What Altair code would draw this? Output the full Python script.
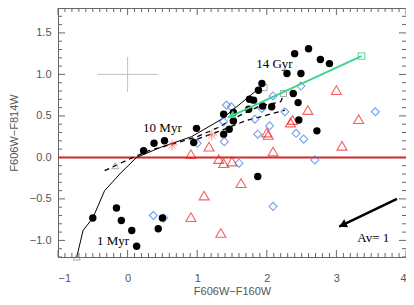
import altair as alt
import pandas as pd
import numpy as np

# ---- data ----
dots_x = [2.40, 2.60, 2.77, 2.90, 2.29, 2.49, 1.93, 1.88, 1.75, 1.81, 2.38, 2.45, 1.74, 1.94,
          2.07, 2.46, 2.72, 1.52, 1.38, 1.52, 1.46, 1.38, 0.99, 0.95, 0.53, 0.38, 0.23, 1.87,
          -0.50, -0.16, -0.09, 0.06, 0.13, 0.44, 0.50]
dots_y = [1.25, 1.31, 1.18, 1.13, 1.01, 1.01, 0.89, 0.81, 0.70, 0.69, 0.77, 0.66, 0.58, 0.62,
          0.61, 0.45, 0.32, 0.54, 0.52, 0.44, 0.34, 0.28, 0.35, 0.18, 0.20, 0.17, 0.08, -0.23,
          -0.73, -0.61, -0.76, -0.88, -1.07, -0.86, -0.73]

diam_x = [1.42, 1.49, 1.38, 1.39, 1.00, 2.09, 2.49, 1.93, 1.83, 2.04, 2.26, 1.87, 2.42, 2.53,
          1.60, 2.69, 3.56, 2.09, 0.37, 0.52]
diam_y = [0.63, 0.61, 0.43, 0.19, 0.17, 0.74, 0.86, 0.59, 0.46, 0.38, 0.55, 0.28, 0.29, 0.22,
          -0.07, -0.03, 0.55, -0.59, -0.70, -0.73]

tri_x = [0.91, 1.17, 1.31, 1.38, 1.50, 2.00, 2.02, 2.09, 2.34, 2.37, 2.59, 3.00, 3.32, 3.08,
         1.63, 1.10, 0.91, 1.34]
tri_y = [0.04, 0.13, -0.02, -0.07, -0.05, 0.30, 0.27, 0.07, 0.42, 0.45, 0.57, 0.81, 0.46, 0.14,
         -0.31, -0.46, -0.72, -0.91]

star_x = [0.64, 1.21]
star_y = [0.15, 0.27]

track_solid_x = [-0.73, -0.64, -0.50, -0.33, -0.09, 0.13, 0.50, 0.92, 1.35, 1.64, 1.93]
track_solid_y = [-1.20, -0.88, -0.73, -0.40, -0.18, 0.00, 0.13, 0.25, 0.46, 0.66, 0.86]

track_dash1_x = [-0.33, 0.00, 0.30, 0.64, 1.00, 1.30, 1.60, 1.90, 2.20, 2.24]
track_dash1_y = [-0.16, -0.03, 0.08, 0.16, 0.25, 0.36, 0.50, 0.62, 0.67, 0.75]

track_dash2_x = [1.00, 1.30, 1.69, 2.00, 2.26]
track_dash2_y = [0.22, 0.31, 0.44, 0.51, 0.57]

start_tri_x = [-0.73, -0.18]
start_tri_y = [-1.20, -0.10]
end_sq_x = [1.96, 2.24]
end_sq_y = [0.84, 0.77]

green_x = [3.36, 1.44]
green_y = [1.22, 0.48]
green_head = (1.49, 0.50)

av_x = [3.87, 3.04]
av_y = [-0.50, -0.835]
av_head = (3.09, -0.815)

err_center = (0.0, 1.0)
err_dx = 0.435
err_dy = 0.21

labels = ["14 Gyr", "10 Myr", "1 Myr", "Av= 1"]
label_x = [2.11, 0.50, -0.21, 3.53]
label_y = [1.13, 0.36, -1.01, -0.97]

x_major = [-1, 0, 1, 2, 3, 4]
y_major = [-1.0, -0.5, 0.0, 0.5, 1.0, 1.5]
x_minor = [round(v, 1) for v in np.arange(-1.0, 4.001, 0.1) if abs(v - round(v)) > 1e-6]
y_minor = [round(v, 1) for v in np.arange(-1.2, 1.801, 0.1) if abs(v * 2 - round(v * 2)) > 1e-6]

# ---- layout ----
W, H = 348, 249
XD, YD = [-1, 4], [-1.2, 1.8]
AX = "#666666"

xs = alt.Scale(domain=XD, nice=False, zero=False)
ys = alt.Scale(domain=YD, nice=False, zero=False)
x_axis = alt.Axis(values=x_major, format="d", ticks=False, domain=False, grid=False,
                  labelPadding=15, titlePadding=2)
y_axis = alt.Axis(values=y_major, format=".1f", ticks=False, domain=False, grid=False,
                  labelPadding=7, titlePadding=10)
XT = "F606W\u2212F160W"
YT = "F606W\u2212F814W"


def X(f="x"):
    return alt.X(f"{f}:Q", scale=xs, axis=x_axis, title=XT)


def Y(f="y"):
    return alt.Y(f"{f}:Q", scale=ys, axis=y_axis, title=YT)


layers = []

# inward ticks on four sides
dfxM = pd.DataFrame({"x": x_major})
dfxm = pd.DataFrame({"x": x_minor})
dfyM = pd.DataFrame({"y": y_major})
dfym = pd.DataFrame({"y": y_minor})
for df, ln in [(dfxM, 7), (dfxm, 4)]:
    layers.append(alt.Chart(df).mark_rule(color=AX, strokeWidth=1).encode(
        x=X(), y=alt.value(H), y2=alt.value(H - ln)))
    layers.append(alt.Chart(df).mark_rule(color=AX, strokeWidth=1).encode(
        x=X(), y=alt.value(0), y2=alt.value(ln)))
for df, ln in [(dfyM, 7), (dfym, 4)]:
    layers.append(alt.Chart(df).mark_rule(color=AX, strokeWidth=1).encode(
        y=Y(), x=alt.value(0), x2=alt.value(ln)))
    layers.append(alt.Chart(df).mark_rule(color=AX, strokeWidth=1).encode(
        y=Y(), x=alt.value(W), x2=alt.value(W - ln)))

# error cross
cx, cy = err_center
layers.append(alt.Chart(pd.DataFrame({"x": [cx - err_dx], "x2": [cx + err_dx], "y": [cy]}))
              .mark_rule(color="#c0c0c0", strokeWidth=1).encode(x=X(), x2="x2:Q", y=Y()))
layers.append(alt.Chart(pd.DataFrame({"x": [cx], "y": [cy - err_dy], "y2": [cy + err_dy]}))
              .mark_rule(color="#c0c0c0", strokeWidth=1).encode(x=X(), y=Y(), y2="y2:Q"))

# zero line
layers.append(alt.Chart(pd.DataFrame({"y": [0.0]})).mark_rule(color="#d42a2a", strokeWidth=2)
              .encode(y=Y()))


def line_df(xv, yv):
    return pd.DataFrame({"x": xv, "y": yv, "o": list(range(len(xv)))})


# model tracks
layers.append(alt.Chart(line_df(track_solid_x, track_solid_y)).mark_line(color="black", strokeWidth=1)
              .encode(x=X(), y=Y(), order="o:Q"))
layers.append(alt.Chart(line_df(track_dash1_x, track_dash1_y)).mark_line(color="black", strokeWidth=1.3, strokeDash=[5, 4])
              .encode(x=X(), y=Y(), order="o:Q"))
layers.append(alt.Chart(line_df(track_dash2_x, track_dash2_y)).mark_line(color="black", strokeWidth=1.3, strokeDash=[5, 4])
              .encode(x=X(), y=Y(), order="o:Q"))
layers.append(alt.Chart(pd.DataFrame({"x": start_tri_x, "y": start_tri_y}))
              .mark_point(shape="triangle-up", filled=False, color="#888888", size=50, strokeWidth=1)
              .encode(x=X(), y=Y()))
layers.append(alt.Chart(pd.DataFrame({"x": end_sq_x, "y": end_sq_y}))
              .mark_point(shape="square", filled=False, color="#888888", size=36, strokeWidth=1)
              .encode(x=X(), y=Y()))

# data points
layers.append(alt.Chart(pd.DataFrame({"x": tri_x, "y": tri_y}))
              .mark_point(shape="triangle-up", filled=False, color="#f02020", size=100, strokeWidth=1.1)
              .encode(x=X(), y=Y()))
layers.append(alt.Chart(pd.DataFrame({"x": diam_x, "y": diam_y}))
              .mark_point(shape="diamond", filled=False, color="#3f7ae8", size=64, strokeWidth=1.1)
              .encode(x=X(), y=Y()))
layers.append(alt.Chart(pd.DataFrame({"x": dots_x, "y": dots_y}))
              .mark_point(shape="circle", filled=True, color="black", opacity=1, size=55)
              .encode(x=X(), y=Y()))
layers.append(alt.Chart(pd.DataFrame({"x": star_x, "y": star_y}))
              .mark_point(shape="M0,-1L0,1M-1,0L1,0M-0.7,-0.7L0.7,0.7M-0.7,0.7L0.7,-0.7",
                          filled=False, color="#ff5a5a", size=110, strokeWidth=1)
              .encode(x=X(), y=Y()))

# green arrow
layers.append(alt.Chart(line_df(green_x, green_y)).mark_line(color="#3ed68c", strokeWidth=2)
              .encode(x=X(), y=Y(), order="o:Q"))
layers.append(alt.Chart(pd.DataFrame({"x": [green_x[0]], "y": [green_y[0]]}))
              .mark_point(shape="square", filled=False, color="#3ed68c", size=42, strokeWidth=1.3)
              .encode(x=X(), y=Y()))
layers.append(alt.Chart(pd.DataFrame({"x": [green_head[0]], "y": [green_head[1]]}))
              .mark_point(shape="triangle-up", filled=True, color="#3ed68c", opacity=1, size=70, angle=245)
              .encode(x=X(), y=Y()))

# extinction arrow
layers.append(alt.Chart(line_df(av_x, av_y)).mark_line(color="black", strokeWidth=2.5)
              .encode(x=X(), y=Y(), order="o:Q"))
layers.append(alt.Chart(pd.DataFrame({"x": [av_head[0]], "y": [av_head[1]]}))
              .mark_point(shape="triangle-up", filled=True, color="black", opacity=1, size=80, angle=244)
              .encode(x=X(), y=Y()))

# labels
layers.append(alt.Chart(pd.DataFrame({"x": label_x, "y": label_y, "t": labels}))
              .mark_text(font="Liberation Serif", fontSize=13, color="black")
              .encode(x=X(), y=Y(), text="t:N"))

chart = alt.layer(*layers).properties(
    width=W, height=H,
    autosize=alt.AutoSizeParams(type="none"),
    padding={"left": 50, "top": 0, "right": 0, "bottom": 40},
).configure_view(stroke=AX, strokeWidth=1).configure_axis(
    labelFont="Liberation Sans", labelFontSize=11, labelColor="#555555",
    titleFont="Liberation Sans", titleFontSize=11, titleFontWeight="normal", titleColor="#555555",
)

chart.save("out.html", embed_options={"renderer": "svg", "actions": False})
